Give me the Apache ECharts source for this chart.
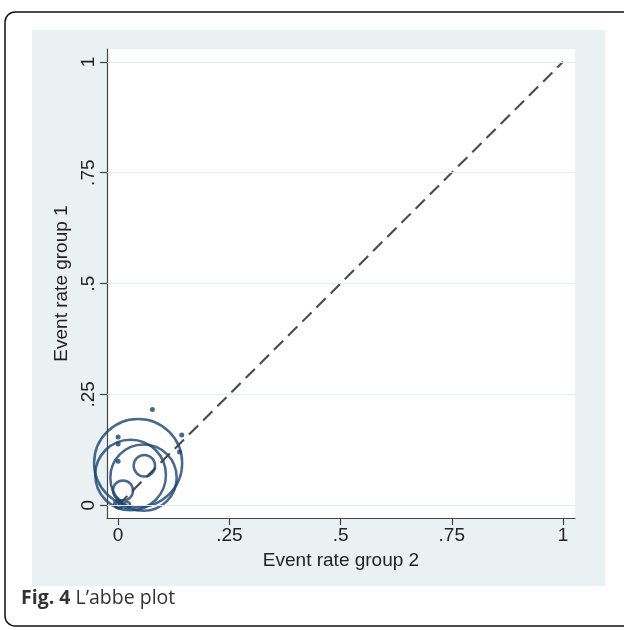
<!DOCTYPE html>
<html>
<head>
<meta charset="utf-8">
<script src="https://cdn.jsdelivr.net/npm/echarts@6/dist/echarts.min.js"></script>
<style>
html,body{margin:0;padding:0;background:#fff;}
#chart{width:624px;height:630px;}
</style>
</head>
<body>
<div id="chart"></div>
<script>
// ---- data ----
const tickValues = [0, 0.25, 0.5, 0.75, 1];
const tickLabels = ['0', '.25', '.5', '.75', '1'];
// study event rates: [group 2, group 1]
const bubbleX = [0.045, 0.028, 0.057, 0.059, 0.011, 0.0, 0.003, 0.02];
const bubbleY = [0.095, 0.068, 0.062, 0.089, 0.033, 0.003, 0.0, 0.0];
const bubbleWeight = [19.4, 12.5, 11.0, 1.15, 1.0, 0.16, 0.12, 0.1];
const dotX = [0.077, 0.143, 0.0, 0.0, 0.0, 0.138];
const dotY = [0.216, 0.158, 0.154, 0.138, 0.099, 0.12];
const diagX = [0, 1];
const diagY = [0, 1];

const navy = '#1a4470';
const axisFont = 'Liberation Sans, Arial, sans-serif';
const fs = 19;

const chart = echarts.init(document.getElementById('chart'), null, {renderer: 'canvas'});

const bubbleData = bubbleX.map((x, i) => [x, bubbleY[i], bubbleWeight[i]]);
const dotData = dotX.map((x, i) => [x, dotY[i]]);
const diagData = diagX.map((x, i) => [x, diagY[i]]);
const fmt = v => tickLabels[tickValues.indexOf(Math.round(v * 100) / 100)] ?? '';

const option = {
  backgroundColor: '#fff',
  animation: false,
  graphic: [
    {type: 'rect', z: -100, silent: true,
     shape: {x: 5, y: 12, width: 660, height: 614, r: 10},
     style: {fill: '#fff', stroke: '#111', lineWidth: 1.5}},
    {type: 'rect', z: -99, silent: true,
     shape: {x: 32, y: 30, width: 573, height: 556},
     style: {fill: '#e9f1f3'}},
    {type: 'text', z: 10, left: 21, top: 588,
     style: {
       text: '{b|Fig. 4} L\u2019abbe plot',
       font: '19.5px "Open Sans", sans-serif',
       fill: '#333',
       rich: {b: {fontWeight: 'bold', fontFamily: '"Open Sans", sans-serif', fontSize: 19.5, fill: '#333'}}
     }}
  ],
  grid: {
    left: 107, top: 49, width: 468, height: 469,
    show: true, backgroundColor: '#fff', borderWidth: 0
  },
  xAxis: {
    type: 'value', min: -0.025, max: 1.027,
    name: 'Event rate group 2', nameLocation: 'middle', nameGap: 33,
    nameTextStyle: {fontFamily: axisFont, fontSize: fs, color: '#222'},
    axisLine: {show: true, onZero: false, lineStyle: {color: '#444', width: 1.2}},
    axisTick: {show: true, length: 7, customValues: tickValues, lineStyle: {color: '#444', width: 1.2}},
    axisLabel: {customValues: tickValues, margin: 8, fontFamily: axisFont, fontSize: fs, color: '#222', formatter: fmt},
    splitLine: {show: false}
  },
  yAxis: {
    type: 'value', min: -0.029, max: 1.029,
    name: 'Event rate group 1', nameLocation: 'middle', nameGap: 33, nameRotate: 90,
    nameTextStyle: {fontFamily: axisFont, fontSize: fs, color: '#222'},
    axisLine: {show: true, onZero: false, lineStyle: {color: '#444', width: 1.2}},
    axisTick: {show: true, length: 7, customValues: tickValues, lineStyle: {color: '#444', width: 1.2}},
    axisLabel: {customValues: tickValues, rotate: 90, margin: 9, fontFamily: axisFont, fontSize: fs, color: '#222', formatter: fmt},
    splitLine: {show: false}
  },
  series: [
    {
      type: 'line', data: diagData, symbol: 'none', silent: true, z: 1,
      lineStyle: {color: '#4a4a4a', width: 2.1, type: [13, 7]},
      markLine: {
        silent: true, symbol: 'none', label: {show: false},
        lineStyle: {color: '#e0ecef', width: 1.2, type: 'solid'},
        data: tickValues.map(v => ({yAxis: v}))
      }
    },
    {
      type: 'scatter', data: bubbleData, clip: false, z: 3,
      symbol: 'circle',
      symbolSize: d => 2 * 10 * Math.sqrt(d[2]),
      itemStyle: {color: 'rgba(0,0,0,0)', borderColor: navy, borderWidth: 2.5}
    },
    {
      type: 'scatter', data: dotData, clip: false, z: 4,
      symbol: 'circle', symbolSize: 5,
      itemStyle: {color: navy}
    }
  ]
};
chart.setOption(option);
</script>
</body>
</html>
